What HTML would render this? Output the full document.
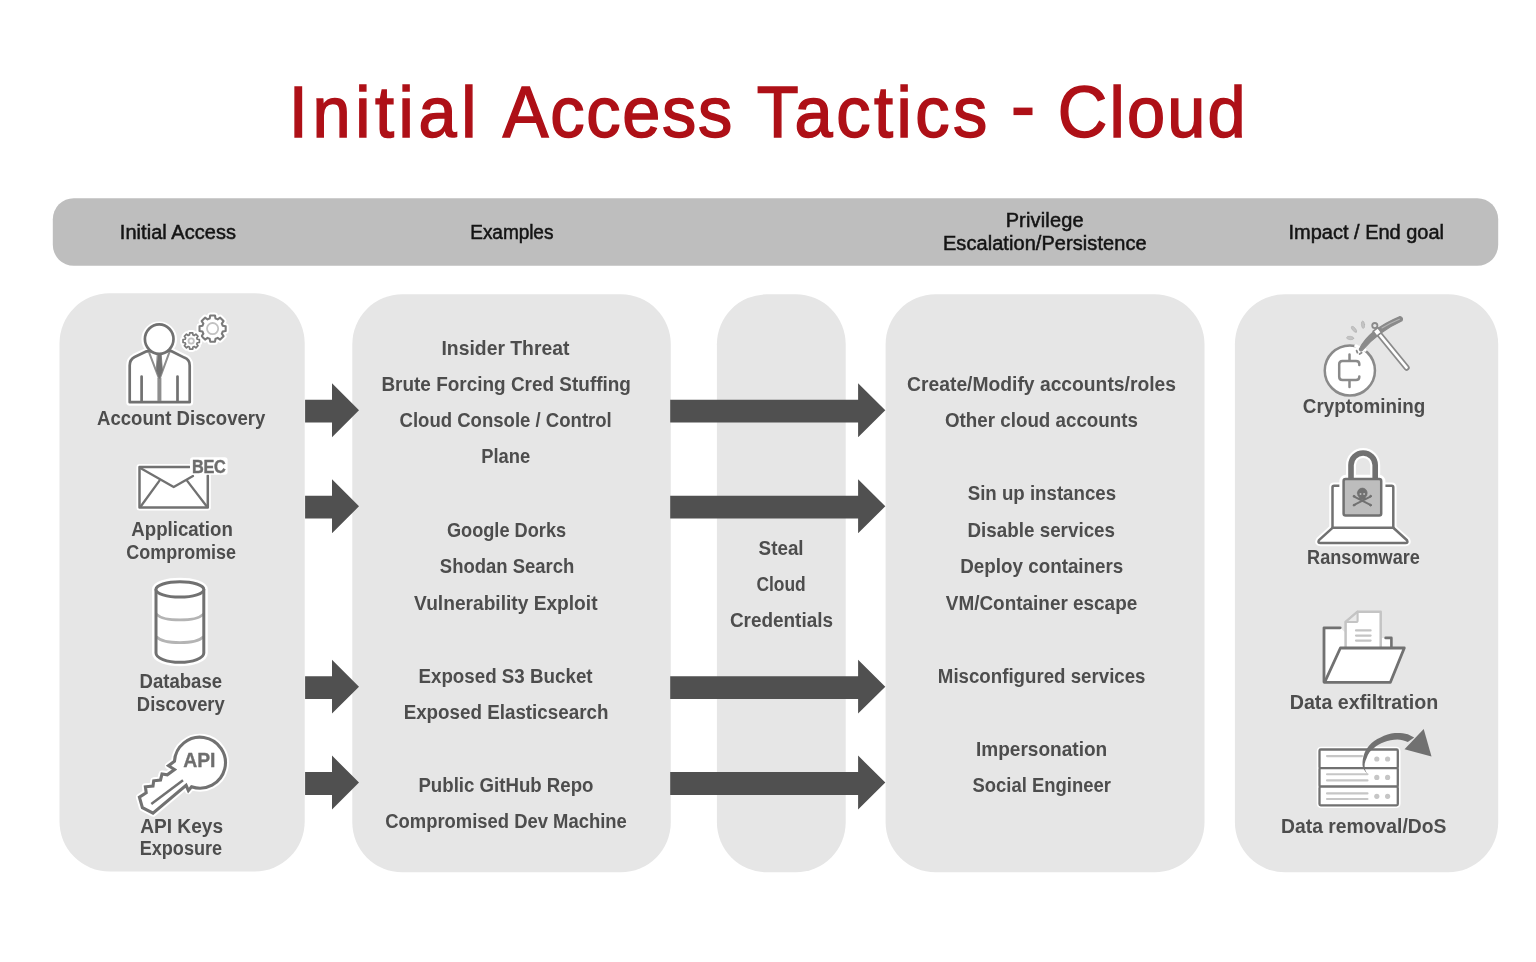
<!DOCTYPE html>
<html><head><meta charset="utf-8"><title>Initial Access Tactics - Cloud</title>
<style>
html,body{margin:0;padding:0;background:#fff;}
body{width:1536px;height:962px;overflow:hidden;font-family:"Liberation Sans",sans-serif;}
svg{display:block;will-change:transform;}
text{font-family:"Liberation Sans",sans-serif;}
</style></head><body>
<svg width="1536" height="962" viewBox="0 0 1536 962">
<rect width="1536" height="962" fill="#ffffff"/>
<!-- header bar -->
<rect x="52.8" y="198.2" width="1445.4" height="67.6" rx="21" ry="21" fill="#bebebe"/>
<!-- column boxes -->
<g fill="#e6e6e6">
<rect x="59.5" y="293.3" width="245.2" height="578.2" rx="50"/>
<rect x="352.3" y="294.3" width="318.5" height="578" rx="50"/>
<rect x="716.9" y="294.3" width="128.8" height="578" rx="50"/>
<rect x="885.6" y="294.3" width="318.9" height="578" rx="50"/>
<rect x="1234.9" y="294.2" width="263.3" height="578" rx="50"/>
</g>
<!-- arrows -->
<g fill="#505050">
<path d="M305.1,399.80 L332,399.80 L332,383.30 L359,410.30 L332,437.20 L332,422.60 L305.1,422.60 Z"/>
<path d="M670.2,399.80 L858.1,399.80 L858.1,383.30 L885.3,410.30 L858.1,437.20 L858.1,422.60 L670.2,422.60 Z"/>
<path d="M305.1,495.80 L332,495.80 L332,479.30 L359,506.30 L332,533.20 L332,518.60 L305.1,518.60 Z"/>
<path d="M670.2,495.80 L858.1,495.80 L858.1,479.30 L885.3,506.30 L858.1,533.20 L858.1,518.60 L670.2,518.60 Z"/>
<path d="M305.1,676.20 L332,676.20 L332,659.70 L359,686.70 L332,713.60 L332,699.00 L305.1,699.00 Z"/>
<path d="M670.2,676.20 L858.1,676.20 L858.1,659.70 L885.3,686.70 L858.1,713.60 L858.1,699.00 L670.2,699.00 Z"/>
<path d="M305.1,772.10 L332,772.10 L332,755.60 L359,782.60 L332,809.50 L332,794.90 L305.1,794.90 Z"/>
<path d="M670.2,772.10 L858.1,772.10 L858.1,755.60 L885.3,782.60 L858.1,809.50 L858.1,794.90 L670.2,794.90 Z"/>
</g>
<!-- ===== Person + gears ===== -->
<g fill="none" stroke-linecap="round" stroke-linejoin="round">
  <!-- halo -->
  <g stroke="#fff" stroke-width="7" fill="#fff">
    <path d="M146.6,351.3 L134.6,357 Q129.7,359.5 129.7,365.5 L129.7,402.2 L189.7,402.2 L189.7,365.5 Q189.7,359.5 184.3,357.6 L170.6,350.8 Z"/>
    <circle cx="159.2" cy="339.3" r="14.3"/>
  </g>
  <path d="M146.6,351.3 L134.6,357 Q129.7,359.5 129.7,365.5 L129.7,402.2 L189.7,402.2 L189.7,365.5 Q189.7,359.5 184.3,357.6 L170.6,350.8 Z" fill="#fff" stroke="#717171" stroke-width="2.7"/>
  <path d="M149.3,353 L159.4,379.5 L169.1,353" stroke="#8e8e8e" stroke-width="2.1"/>
  <path d="M159.4,378 L159.4,401" stroke="#8e8e8e" stroke-width="4" stroke-linecap="butt"/>
  <path d="M157.6,354.5 L161.2,354.5 L162.4,370 L159.4,378.5 L156.4,370 Z" fill="#717171" stroke="#717171" stroke-width="0.8"/>
  <path d="M141.6,376.5 L141.6,401.5 M177.5,376.5 L177.5,401.5" stroke="#717171" stroke-width="2.7"/>
  <ellipse cx="159.2" cy="339.1" rx="14.3" ry="14.7" fill="#fff" stroke="#717171" stroke-width="2.7"/>
</g>
<g fill="none" stroke-linejoin="round">
<path d="M222.68,325.67 L225.68,326.21 L225.68,330.99 L222.68,331.53 A10.50,10.50 0 0 1 221.80,333.66 L223.54,336.16 L220.16,339.54 L217.66,337.80 A10.50,10.50 0 0 1 215.53,338.68 L214.99,341.68 L210.21,341.68 L209.67,338.68 A10.50,10.50 0 0 1 207.54,337.80 L205.04,339.54 L201.66,336.16 L203.40,333.66 A10.50,10.50 0 0 1 202.52,331.53 L199.52,330.99 L199.52,326.21 L202.52,325.67 A10.50,10.50 0 0 1 203.40,323.54 L201.66,321.04 L205.04,317.66 L207.54,319.40 A10.50,10.50 0 0 1 209.67,318.52 L210.21,315.52 L214.99,315.52 L215.53,318.52 A10.50,10.50 0 0 1 217.66,319.40 L220.16,317.66 L223.54,321.04 L221.80,323.54 A10.50,10.50 0 0 1 222.68,325.67 Z" fill="#fff" stroke="#fff" stroke-width="6.1"/>
<path d="M222.68,325.67 L225.68,326.21 L225.68,330.99 L222.68,331.53 A10.50,10.50 0 0 1 221.80,333.66 L223.54,336.16 L220.16,339.54 L217.66,337.80 A10.50,10.50 0 0 1 215.53,338.68 L214.99,341.68 L210.21,341.68 L209.67,338.68 A10.50,10.50 0 0 1 207.54,337.80 L205.04,339.54 L201.66,336.16 L203.40,333.66 A10.50,10.50 0 0 1 202.52,331.53 L199.52,330.99 L199.52,326.21 L202.52,325.67 A10.50,10.50 0 0 1 203.40,323.54 L201.66,321.04 L205.04,317.66 L207.54,319.40 A10.50,10.50 0 0 1 209.67,318.52 L210.21,315.52 L214.99,315.52 L215.53,318.52 A10.50,10.50 0 0 1 217.66,319.40 L220.16,317.66 L223.54,321.04 L221.80,323.54 A10.50,10.50 0 0 1 222.68,325.67 Z" fill="#fff" stroke="#7a7a7a" stroke-width="2.1"/>
<circle cx="212.6" cy="328.6" r="5.6" stroke="#c2c2c2" stroke-width="1.8"/>
<path d="M197.25,339.24 L199.36,339.51 L199.36,342.49 L197.25,342.76 A6.30,6.30 0 0 1 196.72,344.04 L198.03,345.72 L195.92,347.83 L194.24,346.52 A6.30,6.30 0 0 1 192.96,347.05 L192.69,349.16 L189.71,349.16 L189.44,347.05 A6.30,6.30 0 0 1 188.16,346.52 L186.48,347.83 L184.37,345.72 L185.68,344.04 A6.30,6.30 0 0 1 185.15,342.76 L183.04,342.49 L183.04,339.51 L185.15,339.24 A6.30,6.30 0 0 1 185.68,337.96 L184.37,336.28 L186.48,334.17 L188.16,335.48 A6.30,6.30 0 0 1 189.44,334.95 L189.71,332.84 L192.69,332.84 L192.96,334.95 A6.30,6.30 0 0 1 194.24,335.48 L195.92,334.17 L198.03,336.28 L196.72,337.96 A6.30,6.30 0 0 1 197.25,339.24 Z" fill="#fff" stroke="#fff" stroke-width="5.7"/>
<path d="M197.25,339.24 L199.36,339.51 L199.36,342.49 L197.25,342.76 A6.30,6.30 0 0 1 196.72,344.04 L198.03,345.72 L195.92,347.83 L194.24,346.52 A6.30,6.30 0 0 1 192.96,347.05 L192.69,349.16 L189.71,349.16 L189.44,347.05 A6.30,6.30 0 0 1 188.16,346.52 L186.48,347.83 L184.37,345.72 L185.68,344.04 A6.30,6.30 0 0 1 185.15,342.76 L183.04,342.49 L183.04,339.51 L185.15,339.24 A6.30,6.30 0 0 1 185.68,337.96 L184.37,336.28 L186.48,334.17 L188.16,335.48 A6.30,6.30 0 0 1 189.44,334.95 L189.71,332.84 L192.69,332.84 L192.96,334.95 A6.30,6.30 0 0 1 194.24,335.48 L195.92,334.17 L198.03,336.28 L196.72,337.96 A6.30,6.30 0 0 1 197.25,339.24 Z" fill="#fff" stroke="#7a7a7a" stroke-width="1.7"/>
<circle cx="191.2" cy="341" r="2.7" stroke="#c2c2c2" stroke-width="1.8"/>
</g>
<!-- ===== Envelope ===== -->
<g fill="none" stroke-linecap="round" stroke-linejoin="round">
  <rect x="139.5" y="467" width="68.3" height="40.5" fill="#fff" stroke="#fff" stroke-width="6"/>
  <rect x="139.5" y="467" width="68.3" height="40.5" fill="#fff" stroke="none"/>
  <path d="M189.5,467 L139.5,467 L139.5,507.5 L207.8,507.5 L207.8,475.6" stroke="#717171" stroke-width="2.5"/>
  <path d="M140.3,468 L173.7,487 L193,476" stroke="#717171" stroke-width="2.3"/>
  <path d="M140.5,506.8 L159.5,480.6 M207,506.8 L187,480.6" stroke="#717171" stroke-width="2.3"/>
</g>
<!-- ===== Database ===== -->
<g fill="none" stroke-linecap="round" stroke-linejoin="round">
  <path d="M156,589.4 A23.9,7.7 0 0 1 203.8,589.4 L203.8,653 A23.9,9.3 0 0 1 156,653 Z" fill="#fff" stroke="#fff" stroke-width="8"/>
  <path d="M156,589.4 A23.9,7.7 0 0 1 203.8,589.4 L203.8,653 A23.9,9.3 0 0 1 156,653 Z" fill="#fff" stroke="none"/>
  <path d="M157,614.6 A23.9,7.5 0 0 0 202.8,614.6" stroke="#b4b4b4" stroke-width="2.8"/>
  <path d="M157,637.2 A23.9,7.5 0 0 0 202.8,637.2" stroke="#b4b4b4" stroke-width="2.8"/>
  <path d="M156,589.4 L156,653 A23.9,9.3 0 0 0 203.8,653 L203.8,589.4" stroke="#717171" stroke-width="3"/>
  <ellipse cx="179.9" cy="589.4" rx="23.9" ry="7.7" stroke="#717171" stroke-width="3" fill="#fff"/>
</g>
<!-- ===== Key ===== -->
<g fill="none" stroke-linecap="round" stroke-linejoin="miter">
  <path d="M174.5,761.2 A25.5,25.5 0 1 1 191.5,786.75 L188.4,790.6 L186.1,785.3 L153,813.2 L142.4,807.6 L139.4,797.1 L146.2,792.8 L145.4,786.8 L153,786.1 L153.7,780.8 L160.5,780 L162,774 L167.3,774.8 L174.5,769.5 L168.5,765.7 Z" fill="#fff" stroke="#fff" stroke-width="7" stroke-linejoin="round"/>
  <path d="M174.5,761.2 A25.5,25.5 0 1 1 191.5,786.75 L188.4,790.6 L186.1,785.3 L153,813.2 L142.4,807.6 L139.4,797.1 L146.2,792.8 L145.4,786.8 L153,786.1 L153.7,780.8 L160.5,780 L162,774 L167.3,774.8 L174.5,769.5 L168.5,765.7 Z" fill="#fff" stroke="#717171" stroke-width="3.1"/>
  <path d="M151.3,804 L183,780.2" stroke="#717171" stroke-width="2.5" stroke-linecap="butt"/>
</g>

<!-- ===== Cryptomining ===== -->
<g fill="none" stroke-linecap="round" stroke-linejoin="round">
  <circle cx="1349.85" cy="370.5" r="25.1" fill="#fff" stroke="#8a8a8a" stroke-width="2.5"/>
  <path d="M1359.3,365 L1359.3,364 Q1359.3,361 1356,361 L1342.5,361 Q1339.2,361 1339.2,364.3 L1339.2,376.7 Q1339.2,380 1342.5,380 L1356,380 Q1359.3,380 1359.3,377 L1359.3,376.6" stroke="#8a8a8a" stroke-width="2.5"/>
  <path d="M1349.5,354.6 L1349.5,360.5 M1349.5,380.5 L1349.5,387" stroke="#8a8a8a" stroke-width="2.5"/>
  <!-- sparks -->
  <ellipse cx="1350.2" cy="338" rx="3.6" ry="1.7" transform="rotate(6 1350.2 338)" fill="#c4c4c4" stroke="#b0b0b0" stroke-width="0.6"/>
  <ellipse cx="1354" cy="329.3" rx="3.7" ry="1.6" transform="rotate(50 1354 329.3)" fill="#c4c4c4" stroke="#b0b0b0" stroke-width="0.6"/>
  <ellipse cx="1363" cy="324.7" rx="1.6" ry="3.7" transform="rotate(-6 1363 324.7)" fill="#c4c4c4" stroke="#b0b0b0" stroke-width="0.6"/>
  <!-- impact gap + chips -->
  <path d="M1356,346 L1365,350" stroke="#fff" stroke-width="3.5"/>
  <path d="M1356.6,350.6 L1357.4,352.6 M1359.6,354 L1361.6,352.8" stroke="#8a8a8a" stroke-width="1.8"/>
  <!-- handle -->
  <path d="M1378,332.6 L1406.6,367.6" stroke="#8a8a8a" stroke-width="6.2"/>
  <path d="M1378,332.6 L1406.6,367.6" stroke="#fff" stroke-width="2.6"/>
  <!-- head -->
  <path d="M1359.3,349.2 Q1369,329.5 1400,316.6 Q1403.6,317.6 1402,320.8 Q1378.5,331.5 1362,350.6 Q1359.8,351.4 1359.3,349.2 Z" fill="#8a8a8a" stroke="#8a8a8a" stroke-width="1.2"/>
  <path d="M1382,328 Q1391,322.6 1399.4,319.2" stroke="#b4b4b4" stroke-width="1.1"/>
  <circle cx="1374.8" cy="325.6" r="2.6" fill="#e6e6e6" stroke="#8a8a8a" stroke-width="1.8"/>
  <rect x="1374.3" y="328.8" width="6" height="6" transform="rotate(-38 1377.3 331.8)" fill="#fff" stroke="#8a8a8a" stroke-width="1.6"/>
</g>
<!-- ===== Ransomware ===== -->
<g fill="none" stroke-linecap="round" stroke-linejoin="round">
  <!-- halos -->
  <path d="M1332.5,527.8 L1332.5,487.4 Q1332.5,485.8 1334.1,485.8 L1391.7,485.8 Q1393.3,485.8 1393.3,487.4 L1393.3,527.8 L1407,540.2 Q1408.4,543.1 1405.5,543.1 L1320.5,543.1 Q1317.4,543.1 1319,540.2 Z" fill="#fff" stroke="#fff" stroke-width="6.5"/>
  <path d="M1332.5,527.8 L1332.5,487.4 Q1332.5,485.8 1334.1,485.8 L1391.7,485.8 Q1393.3,485.8 1393.3,487.4 L1393.3,527.8" stroke="#717171" stroke-width="2.5"/>
  <path d="M1332.5,527.8 L1319,540.2 Q1317.4,543.1 1320.5,543.1 L1405.5,543.1 Q1408.4,543.1 1407,540.2 L1393.3,527.8 Z" fill="#fff" stroke="#717171" stroke-width="2.5"/>
  <!-- lock halo -->
  <rect x="1343.6" y="479.1" width="37.6" height="36.4" rx="2" fill="#fff" stroke="#fff" stroke-width="8.5"/>
  <path d="M1351,478 L1351,465 A12.1,12.1 0 0 1 1375.2,465 L1375.2,478" stroke="#fff" stroke-width="10" stroke-linecap="butt"/>
  <path d="M1351,479 L1351,465 A12.1,12.1 0 0 1 1375.2,465 L1375.2,479" stroke="#717171" stroke-width="5.6" stroke-linecap="butt"/>
  <rect x="1343.6" y="479.1" width="37.6" height="36.4" rx="2" fill="#bdbdbd" stroke="#717171" stroke-width="2.5"/>
  <!-- skull -->
  <g stroke="#717171" fill="#717171">
    <path d="M1354.2,496.6 L1370.4,504.8 M1370.4,496.6 L1354.2,504.8" stroke-width="1.9"/><circle cx="1354" cy="496.2" r="0.9"/><circle cx="1370.6" cy="496.2" r="0.9"/><circle cx="1354" cy="505.2" r="0.9"/><circle cx="1370.6" cy="505.2" r="0.9"/>
    <path d="M1357.4,493 A4.9,4.9 0 1 1 1367.2,493 Q1367.2,496 1365.4,497 L1365.4,499.6 L1359.2,499.6 L1359.2,497 Q1357.4,496 1357.4,493 Z" stroke-width="0.6"/>
  </g>
  <circle cx="1360.5" cy="494" r="1" fill="#bdbdbd"/>
  <circle cx="1364.1" cy="494" r="1" fill="#bdbdbd"/>
</g>
<!-- ===== Data exfiltration ===== -->
<g fill="none" stroke-linecap="round" stroke-linejoin="round">
  <path d="M1324,627.8 L1340.5,627.8 L1345.5,633 L1345.5,648 L1380.8,648 L1380.8,637.9 L1391.6,637.9 L1391.6,682.3 L1324,682.3 Z" fill="#fff" stroke="none"/>
  <path d="M1340.2,627.8 L1324,627.8 L1324,682" stroke="#717171" stroke-width="2.8"/>
  <path d="M1385.6,637.9 L1391.4,637.9 L1391.4,647" stroke="#717171" stroke-width="2.6"/>
  <!-- document -->
  <path d="M1357.6,611.7 L1380.7,611.7 L1380.7,649 L1345.6,649 L1345.6,622 Z" fill="#fff" stroke="#c4c4c4" stroke-width="2.5"/>
  <path d="M1357.6,611.7 L1357.6,620.4 Q1357.6,622 1356,622 L1345.6,622 Z" fill="#eaeaea" stroke="#c4c4c4" stroke-width="2.1"/>
  <path d="M1356,630.4 L1370.6,630.4 M1356,635.6 L1370.6,635.6 M1356,640.6 L1370.6,640.6" stroke="#c4c4c4" stroke-width="2.2"/>
  <!-- flap -->
  <path d="M1340.4,648 L1404.3,648 L1390.4,682.3 L1324.6,682.3 Z" fill="#fff" stroke="#717171" stroke-width="2.8"/>
</g>
<!-- ===== Data removal ===== -->
<g fill="none" stroke-linecap="round" stroke-linejoin="round">
  <rect x="1319.5" y="749.5" width="78.3" height="55.7" rx="1.5" fill="#fff" stroke="#fff" stroke-width="5.5"/>
  <rect x="1319.5" y="749.5" width="78.3" height="18.6" rx="1.2" fill="#fff" stroke="#717171" stroke-width="2.3"/>
  <rect x="1319.5" y="768.1" width="78.3" height="18.6" rx="1.2" fill="#fff" stroke="#717171" stroke-width="2.3"/>
  <rect x="1319.5" y="786.7" width="78.3" height="18.6" rx="1.2" fill="#fff" stroke="#717171" stroke-width="2.3"/>
  <g stroke="#c6c6c6" stroke-width="2.1">
    <path d="M1327,756.1 L1362,756.1"/>
    <path d="M1327,774.3 L1367.5,774.3 M1327,780.4 L1367.5,780.4"/>
    <path d="M1327,793.4 L1367.5,793.4 M1327,799 L1367.5,799"/>
  </g>
  <g fill="#c6c6c6" stroke="none">
    <circle cx="1376.8" cy="759" r="2.6"/><circle cx="1387.6" cy="759" r="2.6"/>
    <circle cx="1376.8" cy="777.4" r="2.6"/><circle cx="1387.6" cy="777.4" r="2.6"/>
    <circle cx="1376.8" cy="796.3" r="2.6"/><circle cx="1387.6" cy="796.3" r="2.6"/>
  </g>
  <path d="M1367.5,773.9 C1364,770 1362.3,767 1362.5,764.2 C1362.6,757 1364.5,751 1368.8,746 C1372,742 1376,739.5 1380.5,737.5 C1385,735 1390,733.3 1394.8,733 C1400,732.8 1404,733.3 1407.8,734.3 L1414.2,737.5 L1407.8,742.1 C1404,740.5 1401,739.6 1397.4,739.5 C1393,739.6 1388,740.5 1384.4,742.1 C1380,744 1376.5,745.5 1374,748 C1370,751 1368,754 1366.8,757.7 C1365.4,760.5 1364.6,763 1364.6,765.5 C1364.6,768 1365,770 1366.2,772 Z" fill="#717171" stroke="none"/>
  <path d="M1404.5,749.2 L1423.7,729.1 L1431.5,756.4 Z" fill="#717171" stroke="none"/>
</g>

<rect x="1013.5" y="107.6" width="19" height="7.5" fill="#ae1017"/>
<g>
<text transform="translate(288.76,137.4) scale(0.9500,1)" font-size="72.2" font-weight="400" letter-spacing="4.828" fill="#ae1017" stroke="#ae1017" stroke-width="1.5" stroke-linejoin="miter">Initial</text>
<text transform="translate(502.71,137.4) scale(0.9500,1)" font-size="72.2" font-weight="400" letter-spacing="1.795" fill="#ae1017" stroke="#ae1017" stroke-width="1.5" stroke-linejoin="miter">Access</text>
<text transform="translate(756.76,137.4) scale(0.9500,1)" font-size="72.2" font-weight="400" letter-spacing="3.672" fill="#ae1017" stroke="#ae1017" stroke-width="1.5" stroke-linejoin="miter">Tactics</text>
<text transform="translate(1057.86,137.4) scale(0.9500,1)" font-size="72.2" font-weight="400" letter-spacing="2.285" fill="#ae1017" stroke="#ae1017" stroke-width="1.5" stroke-linejoin="miter">Cloud</text>
<text transform="translate(119.83,239) scale(1.0300,1)" font-size="19.4" font-weight="400" letter-spacing="0.051" fill="#141414" stroke="#141414" stroke-width="0.5" stroke-linejoin="miter">Initial Access</text>
<text transform="translate(470.26,239) scale(0.9827,1)" font-size="19.4" font-weight="400" letter-spacing="-0.071" fill="#141414" stroke="#141414" stroke-width="0.5" stroke-linejoin="miter">Examples</text>
<text transform="translate(1005.63,226.6) scale(1.0300,1)" font-size="19.4" font-weight="400" letter-spacing="0.161" fill="#141414" stroke="#141414" stroke-width="0.5" stroke-linejoin="miter">Privilege</text>
<text transform="translate(942.93,250) scale(1.0300,1)" font-size="19.4" font-weight="400" letter-spacing="0.073" fill="#141414" stroke="#141414" stroke-width="0.5" stroke-linejoin="miter">Escalation/Persistence</text>
<text transform="translate(1288.53,239) scale(1.0300,1)" font-size="19.4" font-weight="400" letter-spacing="0.000" fill="#141414" stroke="#141414" stroke-width="0.5" stroke-linejoin="miter">Impact / End goal</text>
<text transform="translate(97.00,424.7) scale(0.9587,1)" font-size="19.4" font-weight="700" letter-spacing="0.000" fill="#4d4d4d">Account Discovery</text>
<text transform="translate(131.30,536.1) scale(0.9616,1)" font-size="19.4" font-weight="700" letter-spacing="0.000" fill="#4d4d4d">Application</text>
<text transform="translate(126.30,558.6) scale(0.9264,1)" font-size="19.4" font-weight="700" letter-spacing="0.000" fill="#4d4d4d">Compromise</text>
<text transform="translate(139.54,688) scale(0.9574,1)" font-size="19.4" font-weight="700" letter-spacing="0.000" fill="#4d4d4d">Database</text>
<text transform="translate(136.85,711) scale(0.9487,1)" font-size="19.4" font-weight="700" letter-spacing="0.000" fill="#4d4d4d">Discovery</text>
<text transform="translate(140.20,832.8) scale(0.9858,1)" font-size="19.4" font-weight="700" letter-spacing="0.000" fill="#4d4d4d">API Keys</text>
<text transform="translate(139.67,855.4) scale(0.9328,1)" font-size="19.4" font-weight="700" letter-spacing="0.000" fill="#4d4d4d">Exposure</text>
<text transform="translate(441.50,354.6) scale(0.9979,1)" font-size="19.4" font-weight="700" letter-spacing="0.000" fill="#4d4d4d">Insider Threat</text>
<text transform="translate(381.42,390.5) scale(0.9773,1)" font-size="19.4" font-weight="700" letter-spacing="0.000" fill="#4d4d4d">Brute Forcing Cred Stuffing</text>
<text transform="translate(399.50,427.3) scale(0.9571,1)" font-size="19.4" font-weight="700" letter-spacing="0.000" fill="#4d4d4d">Cloud Console / Control</text>
<text transform="translate(481.15,463.4) scale(0.9480,1)" font-size="19.4" font-weight="700" letter-spacing="0.000" fill="#4d4d4d">Plane</text>
<text transform="translate(446.90,537) scale(0.9378,1)" font-size="19.4" font-weight="700" letter-spacing="0.000" fill="#4d4d4d">Google Dorks</text>
<text transform="translate(439.80,573.1) scale(0.9536,1)" font-size="19.4" font-weight="700" letter-spacing="0.000" fill="#4d4d4d">Shodan Search</text>
<text transform="translate(414.10,609.7) scale(0.9886,1)" font-size="19.4" font-weight="700" letter-spacing="0.000" fill="#4d4d4d">Vulnerability Exploit</text>
<text transform="translate(418.43,682.6) scale(0.9676,1)" font-size="19.4" font-weight="700" letter-spacing="0.000" fill="#4d4d4d">Exposed S3 Bucket</text>
<text transform="translate(403.63,718.6) scale(0.9694,1)" font-size="19.4" font-weight="700" letter-spacing="0.000" fill="#4d4d4d">Exposed Elasticsearch</text>
<text transform="translate(418.44,791.8) scale(0.9619,1)" font-size="19.4" font-weight="700" letter-spacing="0.000" fill="#4d4d4d">Public GitHub Repo</text>
<text transform="translate(385.20,828) scale(0.9505,1)" font-size="19.4" font-weight="700" letter-spacing="0.000" fill="#4d4d4d">Compromised Dev Machine</text>
<text transform="translate(758.60,554.9) scale(0.9704,1)" font-size="19.4" font-weight="700" letter-spacing="0.000" fill="#4d4d4d">Steal</text>
<text transform="translate(756.40,591.2) scale(0.8987,1)" font-size="19.4" font-weight="700" letter-spacing="0.000" fill="#4d4d4d">Cloud</text>
<text transform="translate(729.90,627.2) scale(0.9769,1)" font-size="19.4" font-weight="700" letter-spacing="0.000" fill="#4d4d4d">Credentials</text>
<text transform="translate(907.10,390.7) scale(0.9945,1)" font-size="19.4" font-weight="700" letter-spacing="0.000" fill="#4d4d4d">Create/Modify accounts/roles</text>
<text transform="translate(945.00,427.4) scale(0.9681,1)" font-size="19.4" font-weight="700" letter-spacing="0.000" fill="#4d4d4d">Other cloud accounts</text>
<text transform="translate(967.70,499.8) scale(0.9628,1)" font-size="19.4" font-weight="700" letter-spacing="0.000" fill="#4d4d4d">Sin up instances</text>
<text transform="translate(967.53,536.9) scale(0.9699,1)" font-size="19.4" font-weight="700" letter-spacing="0.000" fill="#4d4d4d">Disable services</text>
<text transform="translate(960.23,573.2) scale(0.9699,1)" font-size="19.4" font-weight="700" letter-spacing="0.000" fill="#4d4d4d">Deploy containers</text>
<text transform="translate(945.80,609.7) scale(0.9764,1)" font-size="19.4" font-weight="700" letter-spacing="0.000" fill="#4d4d4d">VM/Container escape</text>
<text transform="translate(937.84,682.8) scale(0.9642,1)" font-size="19.4" font-weight="700" letter-spacing="0.000" fill="#4d4d4d">Misconfigured services</text>
<text transform="translate(976.02,755.5) scale(0.9814,1)" font-size="19.4" font-weight="700" letter-spacing="0.000" fill="#4d4d4d">Impersonation</text>
<text transform="translate(972.50,792.3) scale(0.9518,1)" font-size="19.4" font-weight="700" letter-spacing="0.000" fill="#4d4d4d">Social Engineer</text>
<text transform="translate(1302.80,412.5) scale(0.9714,1)" font-size="19.4" font-weight="700" letter-spacing="0.000" fill="#4d4d4d">Cryptomining</text>
<text transform="translate(1307.07,563.8) scale(0.9340,1)" font-size="19.4" font-weight="700" letter-spacing="0.000" fill="#4d4d4d">Ransomware</text>
<text transform="translate(1289.69,709.1) scale(1.0146,1)" font-size="19.4" font-weight="700" letter-spacing="0.000" fill="#4d4d4d">Data exfiltration</text>
<text transform="translate(1281.00,832.8) scale(0.9968,1)" font-size="19.4" font-weight="700" letter-spacing="0.000" fill="#4d4d4d">Data removal/DoS</text>
<rect x="190" y="457.2" width="37.6" height="17.6" rx="3" fill="#fff"/>
<text transform="translate(191.90,472.7) scale(0.9053,1)" font-size="18" font-weight="700" letter-spacing="-0.225" fill="#6e6e6e" stroke="#6e6e6e" stroke-width="0.45" stroke-linejoin="miter">BEC</text>
<text transform="translate(183.25,766.8) scale(1.0020,1)" font-size="19.4" font-weight="700" letter-spacing="-0.150" fill="#6e6e6e" stroke="#6e6e6e" stroke-width="0.3" stroke-linejoin="miter">API</text>
</g>
</svg></body></html>
